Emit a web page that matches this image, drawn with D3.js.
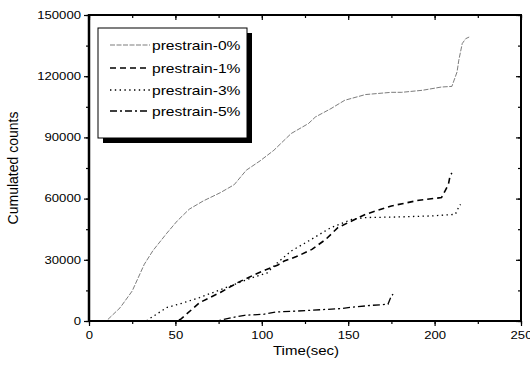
<!DOCTYPE html>
<html>
<head>
<meta charset="utf-8">
<script src="https://cdn.jsdelivr.net/npm/d3@7"></script>
<style>
	body { margin: 0; background: white; }
	text { font-family: "Liberation Sans", Arial, sans-serif; fill: black; }
</style>
</head>
<body>
<script>
// values
var series_names = ["prestrain-0%", "prestrain-1%", "prestrain-3%", "prestrain-5%"];

var time_0 = [0, 10, 18, 25, 32, 37, 45, 51, 58, 66, 76, 84, 91, 99, 107, 111, 117, 127, 131, 140, 148, 160, 175, 181, 193, 204, 210, 213, 214, 216, 218, 220];
var count_0 = [0, 0, 6500, 14700, 27800, 34500, 43000, 49000, 54800, 58800, 62900, 66800, 73900, 78500, 83700, 87000, 91900, 96800, 100000, 104100, 108200, 111000, 112100, 112100, 113100, 114700, 115000, 122100, 127800, 136000, 138400, 139200];

var time_1 = [0, 50, 53, 64, 76, 86, 97, 102, 109, 113, 121, 129, 137, 144, 152, 160, 175, 191, 204, 206, 208, 209, 210];
var count_1 = [0, 0, 800, 9000, 14000, 18800, 23200, 25000, 27300, 29400, 31900, 35100, 40000, 45800, 49000, 52300, 56400, 59200, 60500, 63700, 67000, 71400, 72500];

var time_3 = [0, 33, 45, 53, 64, 80, 95, 103, 108, 117, 127, 140, 152, 160, 179, 198, 212, 214, 215];
var count_3 = [0, 0, 6600, 8500, 11500, 16600, 21400, 23500, 27800, 34300, 39200, 45800, 49800, 50700, 51000, 51500, 52300, 55900, 57200];

var time_5 = [0, 74, 83, 90, 101, 108, 121, 127, 146, 150, 164, 173, 175, 176];
var count_5 = [0, 0, 1700, 2800, 3300, 4400, 4900, 5200, 6100, 6600, 7700, 8200, 12300, 13200];

var x_ticks = [0, 50, 100, 150, 200, 250];
var y_ticks = [0, 30000, 60000, 90000, 120000, 150000];

var width = 530, height = 368;
var margin = {left: 89, top: 15, right: 9, bottom: 47};

var svgContainer = d3.select("body").append("svg")
	.attr("width", width)
	.attr("height", height);

var x = d3.scaleLinear().domain([0, 250]).range([margin.left, width - margin.right]);
var y = d3.scaleLinear().domain([0, 150000]).range([height - margin.bottom, margin.top]);

// line styles: [stroke, width, dasharray]
var styles = [
	["#444", 0.7, "5,1.5"],
	["black", 1.6, "6,4"],
	["black", 1.3, "1.4,3.4"],
	["black", 1.3, "7,3,2,3"]
];

var all_series = [
	d3.zip(time_0, count_0),
	d3.zip(time_1, count_1),
	d3.zip(time_3, count_3),
	d3.zip(time_5, count_5)
];

var line = d3.line()
	.x(function(d){ return x(d[0]); })
	.y(function(d){ return y(d[1]); });

for (var i = 0; i < all_series.length; i++){
	svgContainer.append("path")
		.attr("d", line(all_series[i]))
		.attr("fill", "none")
		.attr("stroke", styles[i][0])
		.attr("stroke-width", styles[i][1])
		.attr("stroke-dasharray", styles[i][2]);
}

// axes, ticks pointing out on left/bottom and in on top/right
var minorX = d3.range(0, 251, 25);
var minorY = d3.range(0, 150001, 15000);

svgContainer.append("g")
	.attr("transform", "translate(0," + y(0) + ")")
	.call(d3.axisBottom(x).tickValues(minorX).tickSize(3).tickFormat(""))
	.call(function(g){ g.select(".domain").remove(); });
svgContainer.append("g")
	.attr("transform", "translate(0," + y(0) + ")")
	.call(d3.axisBottom(x).tickValues(x_ticks).tickSize(5).tickPadding(6))
	.call(function(g){ g.select(".domain").remove(); })
	.selectAll("text")
	.style("font-size", "10.5px")
	.attr("transform", "scale(1.25,1)");

svgContainer.append("g")
	.attr("transform", "translate(" + x(0) + ",0)")
	.call(d3.axisLeft(y).tickValues(minorY).tickSize(3).tickFormat(""))
	.call(function(g){ g.select(".domain").remove(); });
var yAxis = svgContainer.append("g")
	.attr("transform", "translate(" + x(0) + ",0)")
	.call(d3.axisLeft(y).tickValues(y_ticks).tickSize(5).tickPadding(3).tickFormat(d3.format("d")))
	.call(function(g){ g.select(".domain").remove(); });
yAxis.selectAll("text")
	.style("font-size", "10.5px")
	.attr("text-anchor", "end")
	.attr("transform", "scale(1.25,1)")
	.attr("x", -8 / 1.25);

svgContainer.append("g")
	.attr("transform", "translate(0," + y(150000) + ")")
	.call(d3.axisBottom(x).tickValues(minorX).tickSize(3).tickFormat(""))
	.call(function(g){ g.select(".domain").remove(); });
svgContainer.append("g")
	.attr("transform", "translate(0," + y(150000) + ")")
	.call(d3.axisBottom(x).tickValues(x_ticks).tickSize(5).tickFormat(""))
	.call(function(g){ g.select(".domain").remove(); });
svgContainer.append("g")
	.attr("transform", "translate(" + x(250) + ",0)")
	.call(d3.axisLeft(y).tickValues(minorY).tickSize(3).tickFormat(""))
	.call(function(g){ g.select(".domain").remove(); });
svgContainer.append("g")
	.attr("transform", "translate(" + x(250) + ",0)")
	.call(d3.axisLeft(y).tickValues(y_ticks).tickSize(5).tickFormat(""))
	.call(function(g){ g.select(".domain").remove(); });

svgContainer.selectAll(".tick line").attr("stroke-width", 1.2);

// frame
svgContainer.append("line")
	.attr("x1", x(0)).attr("x2", x(0)).attr("y1", y(0) + 1).attr("y2", y(150000) - 1)
	.attr("stroke", "black").attr("stroke-width", 2.5);
svgContainer.append("line")
	.attr("x1", x(0)).attr("x2", x(250) + 1).attr("y1", y(0)).attr("y2", y(0))
	.attr("stroke", "black").attr("stroke-width", 2);
svgContainer.append("line")
	.attr("x1", x(0)).attr("x2", x(250) + 1).attr("y1", y(150000)).attr("y2", y(150000))
	.attr("stroke", "black").attr("stroke-width", 2);
svgContainer.append("line")
	.attr("x1", x(250)).attr("x2", x(250)).attr("y1", y(0) + 1).attr("y2", y(150000) - 1)
	.attr("stroke", "black").attr("stroke-width", 2);

// axis titles
svgContainer.append("text")
	.attr("transform", "translate(" + ((x(0) + x(250)) / 2 + 1) + ",355) scale(1.2,1)")
	.attr("text-anchor", "middle")
	.style("font-size", "12.5px")
	.text("Time(sec)");

svgContainer.append("text")
	.attr("transform", "translate(18," + ((y(0) + y(150000)) / 2) + ") rotate(-90)")
	.attr("text-anchor", "middle")
	.style("font-size", "14px")
	.text("Cumulated counts");

// legend with drop shadow
var lx = 98, ly = 28, lw = 149, lh = 110;
svgContainer.append("rect")
	.attr("x", lx + 5).attr("y", ly + 5)
	.attr("width", lw).attr("height", lh)
	.attr("fill", "black");
svgContainer.append("rect")
	.attr("x", lx).attr("y", ly)
	.attr("width", lw).attr("height", lh)
	.attr("fill", "white")
	.attr("stroke", "black")
	.attr("stroke-width", 1);

var rowY = [45, 68, 90, 111];
for (var i = 0; i < series_names.length; i++){
	svgContainer.append("line")
		.attr("x1", lx + 12).attr("x2", lx + 52)
		.attr("y1", rowY[i]).attr("y2", rowY[i])
		.attr("stroke", styles[i][0])
		.attr("stroke-width", styles[i][1])
		.attr("stroke-dasharray", styles[i][2]);
	svgContainer.append("text")
		.attr("transform", "translate(" + (lx + 54) + "," + (rowY[i] + 4.5) + ") scale(1.25,1)")
		.style("font-size", "12.5px")
		.text(series_names[i]);
}
</script>
</body>
</html>
